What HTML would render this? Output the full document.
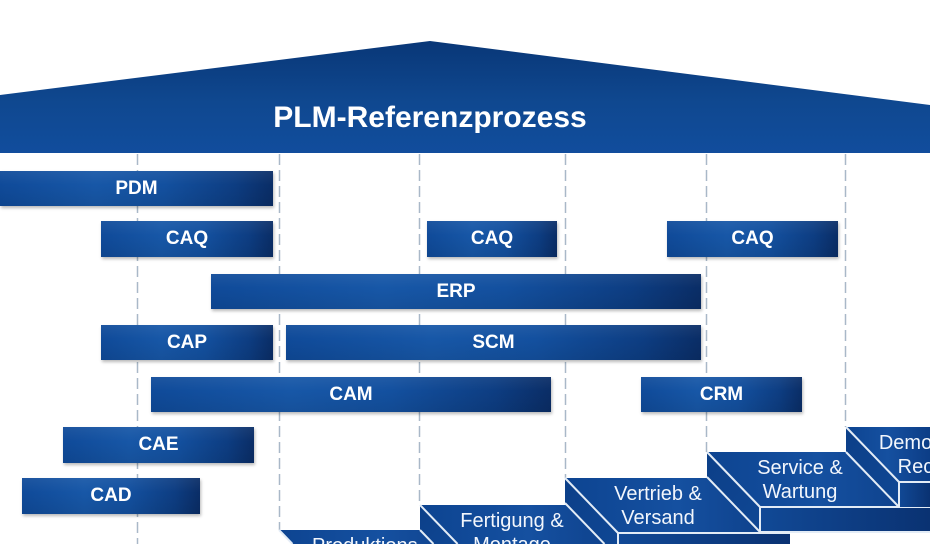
<!DOCTYPE html>
<html>
<head>
<meta charset="utf-8">
<style>
  html,body{margin:0;padding:0;background:#fff;width:930px;height:544px;overflow:hidden;}
  #wrap{position:relative;width:930px;height:544px;overflow:hidden;background:#fff;font-family:"Liberation Sans",Arial,sans-serif;}
  svg{position:absolute;left:0;top:0;}
  .bar{position:absolute;height:36px;line-height:36px;text-align:center;color:#fff;font-weight:bold;font-size:19px;
    background:
      linear-gradient(180deg, rgba(255,255,255,0.06) 0%, rgba(255,255,255,0) 40%, rgba(0,0,0,0.08) 100%),
      linear-gradient(90deg, #0f4a99 0%, #1757a7 35%, #13509f 60%, #0d3d82 86%, #0a2d66 100%);
    box-shadow:1px 2px 3px rgba(0,0,0,0.28);}
</style>
</head>
<body>
<div id="wrap">
<svg width="930" height="544" viewBox="0 0 930 544" xmlns="http://www.w3.org/2000/svg" overflow="hidden">
  <defs>
    <linearGradient id="roof" x1="0" y1="0" x2="0" y2="1">
      <stop offset="0" stop-color="#093777"/>
      <stop offset="0.55" stop-color="#0f4890"/>
      <stop offset="1" stop-color="#114d9d"/>
    </linearGradient>
    <linearGradient id="topf" x1="0" y1="0" x2="1" y2="0">
      <stop offset="0" stop-color="#0d4491"/>
      <stop offset="0.5" stop-color="#1550a0"/>
      <stop offset="1" stop-color="#0c3d86"/>
    </linearGradient>
    <linearGradient id="sidef" x1="0" y1="0" x2="1" y2="1">
      <stop offset="0" stop-color="#0c3f88"/>
      <stop offset="1" stop-color="#0f4794"/>
    </linearGradient>
    <linearGradient id="frontf" x1="0" y1="0" x2="1" y2="0">
      <stop offset="0" stop-color="#114996"/>
      <stop offset="1" stop-color="#0a3272"/>
    </linearGradient>
  </defs>

  <!-- roof -->
  <polygon points="0,95 430,41 930,105 930,153 0,153" fill="url(#roof)"/>
  <text x="430" y="127" text-anchor="middle" font-family="Liberation Sans, Arial, sans-serif" font-weight="bold" font-size="30" fill="#ffffff">PLM-Referenzprozess</text>

  <!-- dashed guide lines -->
  <g stroke="#a9b8c8" stroke-width="1.5" stroke-dasharray="11 5" fill="none">
    <line x1="137.5" y1="154" x2="137.5" y2="544"/>
    <line x1="279.5" y1="154" x2="279.5" y2="530"/>
    <line x1="419.5" y1="154" x2="419.5" y2="505"/>
    <line x1="565.5" y1="154" x2="565.5" y2="478"/>
    <line x1="706.5" y1="154" x2="706.5" y2="452"/>
    <line x1="845.5" y1="154" x2="845.5" y2="427"/>
  </g>

  <!-- Produktions -->
  <polygon points="279,530 470,530 483.5,544 292.5,544" fill="url(#topf)"/>
  <path d="M279 530 L292.5 544" stroke="#e3ecf6" stroke-width="2" fill="none"/>

  <!-- Fertigung -->
  <polygon points="420,505 600,505 637.6,544 457.6,544" fill="url(#topf)"/>
  <polygon points="420,505 457.6,544 433.5,544 420,530" fill="url(#sidef)"/>
  <g stroke="#e3ecf6" stroke-width="2" fill="none">
    <path d="M420 505 L457.6 544"/>
    <path d="M420 530 L433.5 544"/>
  </g>

  <!-- Vertrieb -->
  <polygon points="565,478 737,478 790,533 618,533" fill="url(#topf)"/>
  <polygon points="565,478 618,533 618,544 604.5,544 565,503" fill="url(#sidef)"/>
  <rect x="618" y="533" width="172" height="11" fill="url(#frontf)"/>
  <g stroke="#e3ecf6" stroke-width="2" fill="none">
    <path d="M565 478 L618 533"/>
    <path d="M565 503 L604.5 544"/>
    <path d="M618 533 V544"/>
    <path d="M618 533 H790"/>
  </g>

  <!-- Service -->
  <polygon points="707,452 930,452 930,507 760,507" fill="url(#topf)"/>
  <polygon points="707,452 760,507 760,532 707,477" fill="url(#sidef)"/>
  <rect x="760" y="507" width="170" height="25" fill="url(#frontf)"/>
  <g stroke="#e3ecf6" stroke-width="2" fill="none">
    <path d="M707 452 L760 507"/>
    <path d="M707 477 L760 532"/>
    <path d="M760 507 V532"/>
    <path d="M760 507 H930"/>
    <path d="M760 532 H930"/>
  </g>

  <!-- Demontage -->
  <polygon points="846,427 930,427 930,482 899,482" fill="url(#topf)"/>
  <polygon points="846,427 899,482 899,507 846,452" fill="url(#sidef)"/>
  <rect x="899" y="482" width="31" height="25" fill="url(#frontf)"/>
  <g stroke="#e3ecf6" stroke-width="2" fill="none">
    <path d="M846 427 L899 482"/>
    <path d="M846 452 L899 507"/>
    <path d="M899 482 V507"/>
    <path d="M899 482 H930"/>
  </g>

  <!-- stair labels -->
  <g font-family="Liberation Sans, Arial, sans-serif" font-size="20" fill="#f2f6fc">
    <text x="312" y="552">Produktions-</text>
    <text x="512" y="527" text-anchor="middle">Fertigung &amp;</text>
    <text x="512" y="551" text-anchor="middle">Montage</text>
    <text x="658" y="500" text-anchor="middle">Vertrieb &amp;</text>
    <text x="658" y="524" text-anchor="middle">Versand</text>
    <text x="800" y="474" text-anchor="middle">Service &amp;</text>
    <text x="800" y="498" text-anchor="middle">Wartung</text>
    <text x="940" y="449" text-anchor="middle">Demontage &amp;</text>
    <text x="941" y="473" text-anchor="middle">Recycling</text>
  </g>
</svg>

<div class="bar" style="left:0px;top:171px;width:273px;height:35px;line-height:35px;">PDM</div>
<div class="bar" style="left:101px;top:221px;width:172px;">CAQ</div>
<div class="bar" style="left:427px;top:221px;width:130px;">CAQ</div>
<div class="bar" style="left:667px;top:221px;width:171px;">CAQ</div>
<div class="bar" style="left:211px;top:274px;width:490px;height:35px;line-height:35px;">ERP</div>
<div class="bar" style="left:101px;top:325px;width:172px;height:35px;line-height:35px;">CAP</div>
<div class="bar" style="left:286px;top:325px;width:415px;height:35px;line-height:35px;">SCM</div>
<div class="bar" style="left:151px;top:377px;width:400px;height:35px;line-height:35px;">CAM</div>
<div class="bar" style="left:641px;top:377px;width:161px;height:35px;line-height:35px;">CRM</div>
<div class="bar" style="left:63px;top:427px;width:191px;">CAE</div>
<div class="bar" style="left:22px;top:478px;width:178px;">CAD</div>
</div>
</body>
</html>
